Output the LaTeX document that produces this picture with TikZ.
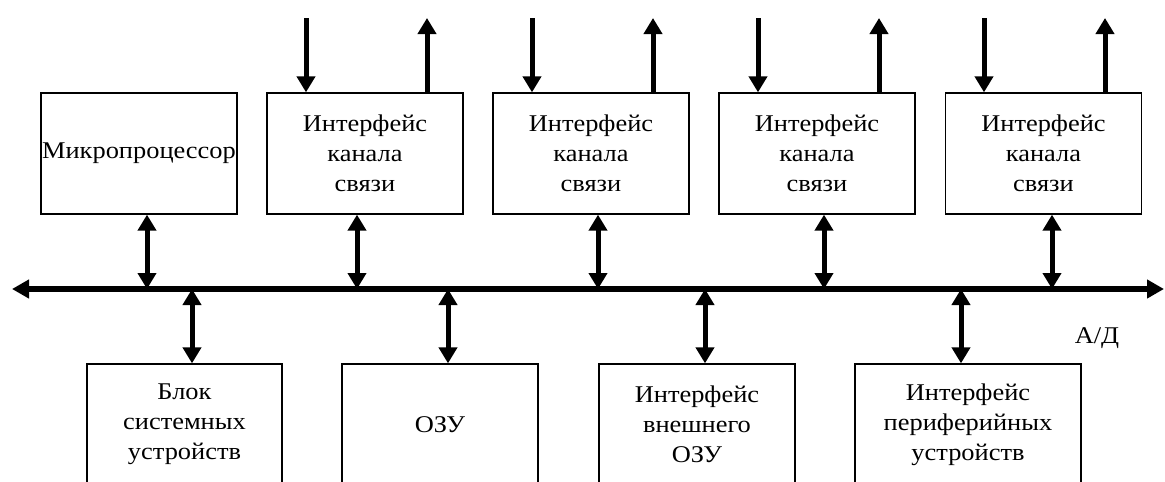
\documentclass[tikz,border=0pt]{standalone}
\usepackage{fontspec}
\setmainfont[FakeStretch=1.1]{Liberation Serif}
\usetikzlibrary{arrows.meta}

\begin{document}
\begin{tikzpicture}[x=1pt,y=-1pt,
  box/.style={draw, line width=1.3pt, inner sep=0pt, minimum height=121pt,
    align=center, font=\fontsize{24}{30}\selectfont},
  lbl/.style={inner sep=0pt, font=\fontsize{24}{30}\selectfont},
  bus/.style={line width=5.5pt,
    {Triangle[length=17pt,width=18pt]}-{Triangle[length=17pt,width=18pt]}},
  dbl/.style={line width=5pt,
    {Triangle[length=16pt,width=18pt]}-{Triangle[length=16pt,width=18pt]}},
  sig/.style={line width=5pt, -{Triangle[length=16pt,width=18pt]}}]

\useasboundingbox (0,0) rectangle (1165,482);

% system bus
\coordinate (busL) at (12,289);
\coordinate (busR) at (1164,289);
\draw[bus] (busL) -- (busR);
\node[lbl, anchor=base] (ad) at (1097,343) {А/Д};

% upper row
\node[box, minimum width=196pt] (mp) at (139,153.5) {Микропроцессор};
\node[box, minimum width=196pt] (if1) at (365,153.5) {Интерфейс\\канала\\связи};
\node[box, minimum width=196pt] (if2) at (591,153.5) {Интерфейс\\канала\\связи};
\node[box, minimum width=196pt] (if3) at (817,153.5) {Интерфейс\\канала\\связи};
\node[box, minimum width=196pt] (if4) at (1043.5,153.5) {Интерфейс\\канала\\связи};

% lower row
\node[box, minimum width=195pt] (sys) at (184.5,424.5) {Блок\\системных\\устройств};
\node[box, minimum width=196pt] (ram) at (440,424.5) {ОЗУ};
\node[box, minimum width=196pt] (xram) at (697,424.5) {Интерфейс\\внешнего\\ОЗУ};
\node[box, minimum width=226pt] (per) at (968,424.5) {Интерфейс\\периферийных\\устройств};

% bus taps, upper row
\draw[dbl] (mp.south -| 147,0) -- (busL -| 147,0);
\draw[dbl] (if1.south -| 357,0) -- (busL -| 357,0);
\draw[dbl] (if2.south -| 598,0) -- (busL -| 598,0);
\draw[dbl] (if3.south -| 824,0) -- (busL -| 824,0);
\draw[dbl] (if4.south -| 1052,0) -- (busL -| 1052,0);

% bus taps, lower row
\draw[dbl] (busL -| 192,0) -- (sys.north -| 192,0);
\draw[dbl] (busL -| 448,0) -- (ram.north -| 448,0);
\draw[dbl] (busL -| 705,0) -- (xram.north -| 705,0);
\draw[dbl] (busL -| 961,0) -- (per.north -| 961,0);

% channel lines: input and output of each link interface
\foreach \n/\l in {if1/267, if2/493, if3/719, if4/945}{
  \coordinate (\n-in) at (\l+39,18);
  \coordinate (\n-out) at (\l+160,18);
  \draw[sig] (\n-in) -- (\n.north -| \n-in);
  \draw[sig] (\n.north -| \n-out) -- (\n-out);
}
\end{tikzpicture}
\end{document}
